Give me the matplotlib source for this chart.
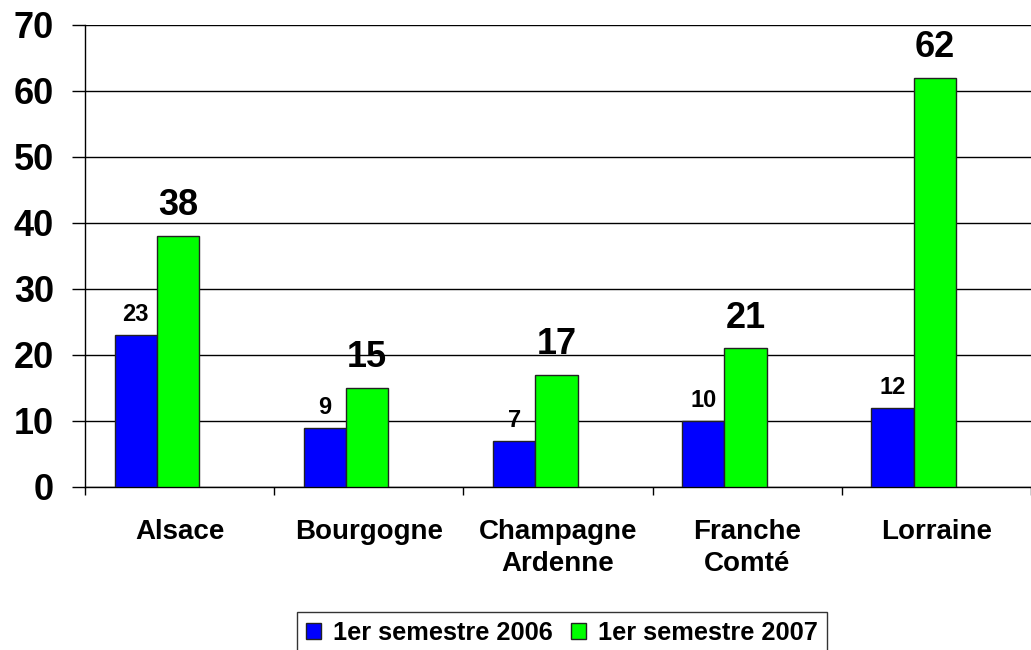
import matplotlib
matplotlib.use('Agg')
import matplotlib.pyplot as plt
import numpy as np

# Data
regions = ["Alsace", "Bourgogne", "Champagne\nArdenne", "Franche\nComté", "Lorraine"]
s2006 = [23, 9, 7, 10, 12]
s2007 = [38, 15, 17, 21, 62]
series_names = ["1er semestre 2006", "1er semestre 2007"]
yticks = [0, 10, 20, 30, 40, 50, 60, 70]

plt.rcParams['font.family'] = ['Liberation Sans', 'DejaVu Sans']
plt.rcParams['font.weight'] = 'bold'

fig = plt.figure(figsize=(10.31, 6.5), dpi=100)
ax = fig.add_axes([85 / 1031, (650 - 487) / 650, 1 - 85 / 1031, (487 - 25) / 650])

x = np.arange(len(regions))
w = 0.224
offset = 0.38
b1 = ax.bar(x + offset - w / 2, s2006, w, color='#0000FF', edgecolor='#222222', linewidth=1, zorder=3)
b2 = ax.bar(x + offset + w / 2, s2007, w, color='#00FF00', edgecolor='#222222', linewidth=1, zorder=3)

# value labels
for xi, v in zip(x, s2006):
    ax.annotate(str(v), (xi + offset - w / 2, v), xytext=(0, 10), textcoords='offset points',
                ha='center', va='baseline', fontsize=17, fontweight='bold', zorder=4)
for xi, v in zip(x, s2007):
    ax.annotate(str(v), (xi + offset + w / 2, v), xytext=(0, 15), textcoords='offset points',
                ha='center', va='baseline', fontsize=26, fontweight='bold', zorder=4)

ax.set_ylim(0, 70)
ax.set_xlim(0, 946 / 192)
ax.set_yticks(yticks)
ax.set_yticklabels([str(t) for t in yticks], fontsize=26, fontweight='bold')
ax.yaxis.grid(True, color='black', linewidth=1)
ax.set_axisbelow(True)
ax.tick_params(axis='y', length=9.4, width=1, pad=13, color='black')

# category labels between boundary ticks
ax.set_xticks(x + 0.5)
ax.set_xticklabels(regions, fontsize=20, fontweight='bold', linespacing=1.3)
ax.set_xticks(np.arange(len(regions) + 1), minor=True)
ax.tick_params(axis='x', which='major', length=0, pad=23)
ax.tick_params(axis='x', which='minor', length=6, width=1, color='black')

for side in ['top', 'right']:
    ax.spines[side].set_visible(False)
ax.spines['left'].set_linewidth(1)
ax.spines['bottom'].set_linewidth(1)

leg = fig.legend([b1, b2], series_names, loc='upper left',
                 bbox_to_anchor=(297 / 1031, 1 - 612 / 650), ncol=2,
                 prop={'size': 18.3, 'weight': 'bold'}, frameon=True, fancybox=False,
                 handlelength=0.6, handleheight=0.6, handletextpad=0.47,
                 columnspacing=0.7, borderpad=0.35, borderaxespad=0)
leg.get_frame().set_edgecolor('black')
leg.get_frame().set_linewidth(1)

fig.savefig('out.png', dpi=100)
